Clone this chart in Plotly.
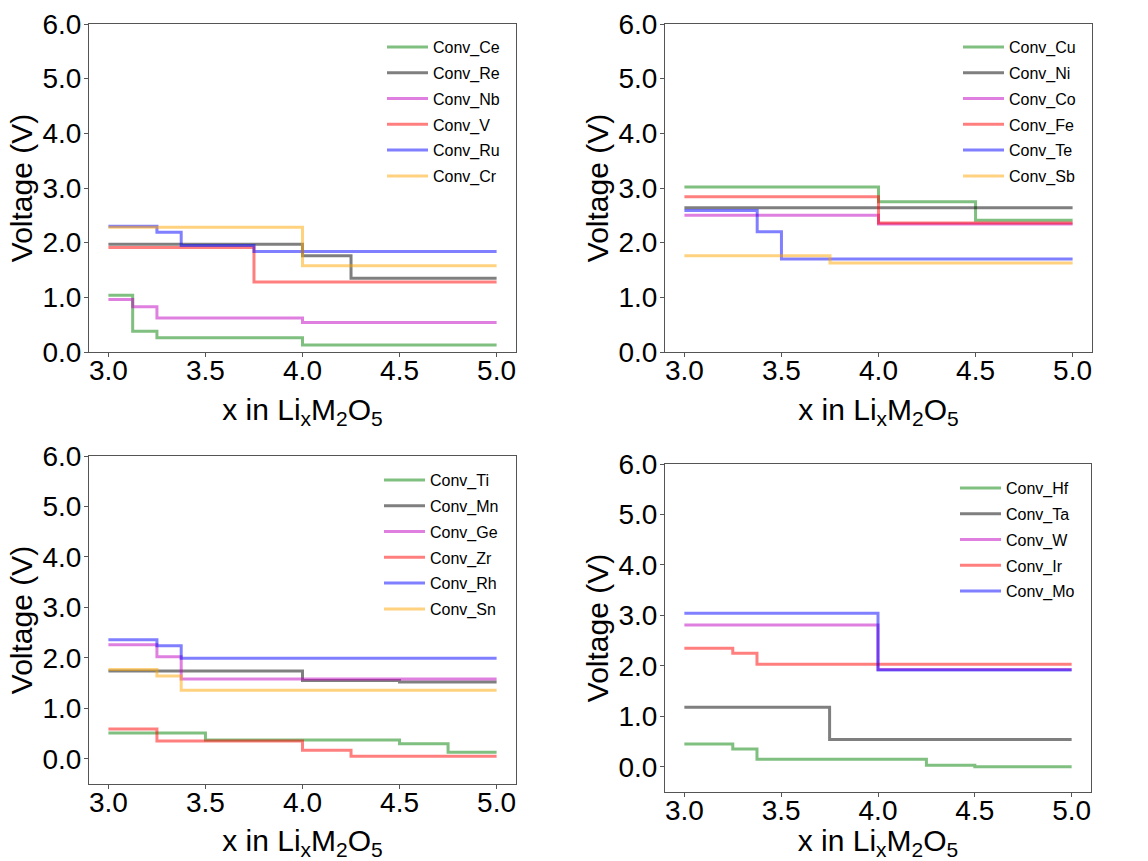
import plotly.graph_objects as go

# ---------------- data (x in LixM2O5, voltage in V), step "post" ----------------
# Panel 1
x_ce = [3.0, 3.125, 3.25, 4.0, 5.0];  v_ce = [1.04, 0.38, 0.26, 0.13, 0.13]
x_re = [3.0, 4.0, 4.25, 5.0];         v_re = [1.97, 1.76, 1.35, 1.35]
x_nb = [3.0, 3.125, 3.25, 4.0, 5.0];  v_nb = [0.96, 0.83, 0.62, 0.54, 0.54]
x_v  = [3.0, 3.75, 5.0];              v_v  = [1.91, 1.28, 1.28]
x_ru = [3.0, 3.25, 3.375, 3.75, 5.0]; v_ru = [2.30, 2.19, 1.95, 1.84, 1.84]
x_cr = [3.0, 4.0, 5.0];               v_cr = [2.28, 1.58, 1.58]
# Panel 2
x_cu = [3.0, 4.0, 4.5, 5.0];          v_cu = [3.02, 2.75, 2.41, 2.41]
x_ni = [3.0, 5.0];                    v_ni = [2.64, 2.64]
x_co = [3.0, 4.0, 5.0];               v_co = [2.50, 2.34, 2.34]
x_fe = [3.0, 4.0, 5.0];               v_fe = [2.84, 2.36, 2.36]
x_te = [3.0, 3.375, 3.5, 5.0];        v_te = [2.59, 2.20, 1.70, 1.70]
x_sb = [3.0, 3.75, 5.0];              v_sb = [1.76, 1.63, 1.63]
# Panel 3
x_ti = [3.0, 3.5, 4.5, 4.75, 5.0];    v_ti = [0.51, 0.37, 0.30, 0.13, 0.13]
x_mn = [3.0, 4.0, 4.5, 5.0];          v_mn = [1.74, 1.55, 1.52, 1.52]
x_ge = [3.0, 3.25, 3.375, 5.0];       v_ge = [2.26, 2.02, 1.58, 1.58]
x_zr = [3.0, 3.25, 4.0, 4.25, 5.0];   v_zr = [0.59, 0.35, 0.17, 0.05, 0.05]
x_rh = [3.0, 3.25, 3.375, 5.0];       v_rh = [2.36, 2.24, 1.99, 1.99]
x_sn = [3.0, 3.25, 3.375, 5.0];       v_sn = [1.77, 1.64, 1.36, 1.36]
# Panel 4
x_hf = [3.0, 3.25, 3.375, 4.25, 4.5, 5.0]; v_hf = [0.45, 0.35, 0.15, 0.03, 0.0, 0.0]
x_ta = [3.0, 3.75, 5.0];              v_ta = [1.18, 0.54, 0.54]
x_w  = [3.0, 4.0, 5.0];               v_w  = [2.81, 1.93, 1.93]
x_ir = [3.0, 3.25, 3.375, 5.0];       v_ir = [2.35, 2.25, 2.03, 2.03]
x_mo = [3.0, 4.0, 5.0];               v_mo = [3.04, 1.92, 1.92]

x_ticks = [3.0, 3.5, 4.0, 4.5, 5.0]
y_ticks = [0, 1, 2, 3, 4, 5, 6]

GREEN = "rgba(0,128,0,0.5)"
BLACK = "rgba(0,0,0,0.5)"
MAG = "rgba(191,0,191,0.5)"
RED = "rgba(255,0,0,0.5)"
BLUE = "rgba(0,0,255,0.5)"
ORANGE = "rgba(255,165,0,0.5)"

panels = [
    [("Conv_Ce", x_ce, v_ce, GREEN), ("Conv_Re", x_re, v_re, BLACK), ("Conv_Nb", x_nb, v_nb, MAG),
     ("Conv_V", x_v, v_v, RED), ("Conv_Ru", x_ru, v_ru, BLUE), ("Conv_Cr", x_cr, v_cr, ORANGE)],
    [("Conv_Cu", x_cu, v_cu, GREEN), ("Conv_Ni", x_ni, v_ni, BLACK), ("Conv_Co", x_co, v_co, MAG),
     ("Conv_Fe", x_fe, v_fe, RED), ("Conv_Te", x_te, v_te, BLUE), ("Conv_Sb", x_sb, v_sb, ORANGE)],
    [("Conv_Ti", x_ti, v_ti, GREEN), ("Conv_Mn", x_mn, v_mn, BLACK), ("Conv_Ge", x_ge, v_ge, MAG),
     ("Conv_Zr", x_zr, v_zr, RED), ("Conv_Rh", x_rh, v_rh, BLUE), ("Conv_Sn", x_sn, v_sn, ORANGE)],
    [("Conv_Hf", x_hf, v_hf, GREEN), ("Conv_Ta", x_ta, v_ta, BLACK), ("Conv_W", x_w, v_w, MAG),
     ("Conv_Ir", x_ir, v_ir, RED), ("Conv_Mo", x_mo, v_mo, BLUE)],
]

W, H = 1148, 861
# axes frames in pixels: (left, right, top, bottom)
frames = [(89, 516, 24, 352), (665, 1092, 24, 352), (89, 516, 456, 784), (665, 1091, 464, 792)]
yranges = [[0, 6], [0, 6], [-0.5, 6], [-0.5, 6]]
legend_pos = [(382, 30), (958, 30), (379, 463), (955, 471)]

FONT = "Liberation Sans, Arial, Helvetica, sans-serif"
fig = go.Figure()
layout = dict(
    width=W, height=H, margin=dict(l=0, r=0, t=0, b=0, autoexpand=False),
    paper_bgcolor="white", plot_bgcolor="white",
    font=dict(family=FONT, color="black"),
    showlegend=True,
)

for i, (traces, fr, yr, lp) in enumerate(zip(panels, frames, yranges, legend_pos)):
    n = "" if i == 0 else str(i + 1)
    xa, ya = "x" + n, "y" + n
    lg = "legend" + n
    for name, xs, ys, col in traces:
        fig.add_trace(go.Scatter(
            x=xs, y=ys, mode="lines", name=name, line=dict(color=col, width=3, shape="hv"),
            xaxis=xa, yaxis=ya, legend=lg, legendgroup=name, showlegend=True,
        ))
    l, r, t, b = fr
    axis_common = dict(
        showline=True, linecolor="#555", linewidth=1, mirror=True,
        ticks="outside", ticklen=4, tickcolor="#555", tickwidth=1,
        showgrid=False, zeroline=False, automargin=False,
        tickfont=dict(size=28, family=FONT, color="black"),
    )
    layout["xaxis" + n] = dict(
        axis_common, domain=[l / W, r / W], anchor=ya, range=[2.9, 5.1],
        tickvals=x_ticks, tickformat=".1f", ticklabelstandoff=-11,
        title=dict(text="x in Li<sub>x</sub>M<sub>2</sub>O<sub>5</sub>",
                   font=dict(size=30, family=FONT, color="black"), standoff=14),
    )
    layout["yaxis" + n] = dict(
        axis_common, domain=[1 - b / H, 1 - t / H], anchor=xa, range=yr,
        tickvals=y_ticks, tickformat=".1f", ticklabelstandoff=-3,
        title=dict(text="Voltage (V)", font=dict(size=30, family=FONT, color="black"), standoff=0),
    )
    layout[lg] = dict(
        x=lp[0] / W, y=1 - lp[1] / H, xanchor="left", yanchor="top",
        bgcolor="rgba(0,0,0,0)", borderwidth=0,
        font=dict(size=16, family=FONT, color="black"),
        tracegroupgap=2, itemwidth=41,
    )

fig.update_layout(**layout)
fig.write_html("out.html")
